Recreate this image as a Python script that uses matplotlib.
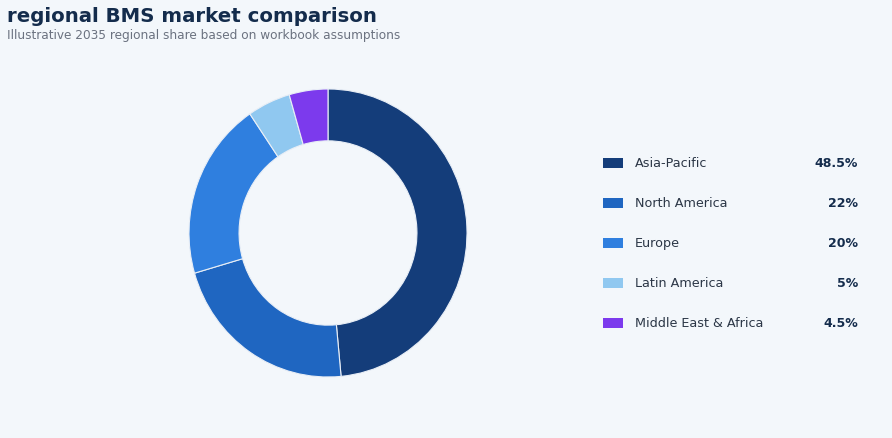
import matplotlib.pyplot as plt
from matplotlib.patches import Rectangle

regions = ["Asia-Pacific", "North America", "Europe", "Latin America", "Middle East & Africa"]
shares = [48.5, 22, 20, 5, 4.5]
share_labels = ["48.5%", "22%", "20%", "5%", "4.5%"]
colors = ["#143d7a", "#1f66c1", "#2f7fdf", "#90c8f0", "#7c3aed"]

bg = "#f3f7fb"
W, H = 892, 439

fig = plt.figure(figsize=(W / 100, H / 100), dpi=100, facecolor=bg)

# title block
fig.text(7 / W, 1 - 16 / H, "regional BMS market comparison", fontsize=14.2,
         fontweight="bold", color="#142c4c", va="center", ha="left")
fig.text(7 / W, 1 - 36 / H, "Illustrative 2035 regional share based on workbook assumptions",
         fontsize=8.75, color="#6b7280", va="center", ha="left")

# donut
ax = fig.add_axes([189 / W, 61 / H, 278 / W, 288 / H])
ax.set_facecolor(bg)
ax.pie(shares, colors=colors, startangle=90, counterclock=False, radius=1,
       wedgeprops=dict(width=0.36, edgecolor="#e8eef6", linewidth=0.8))
ax.set_xlim(-1.0, 1.0)
ax.set_ylim(-1.0, 1.0)
ax.set_aspect("auto")
ax.axis("off")

# legend rows
for i, (name, lab, c) in enumerate(zip(regions, share_labels, colors)):
    y = 163.5 + 40 * i
    fig.patches.append(Rectangle((603 / W, 1 - (y + 5) / H), 20 / W, 10 / H,
                                 transform=fig.transFigure, facecolor=c, edgecolor="none"))
    fig.text(635 / W, 1 - y / H, name, fontsize=9.2, color="#2b3646", va="center", ha="left")
    fig.text(858 / W, 1 - y / H, lab, fontsize=9, fontweight="bold", color="#142c4c",
             va="center", ha="right")

fig.savefig("out.png", dpi=100, facecolor=bg)
